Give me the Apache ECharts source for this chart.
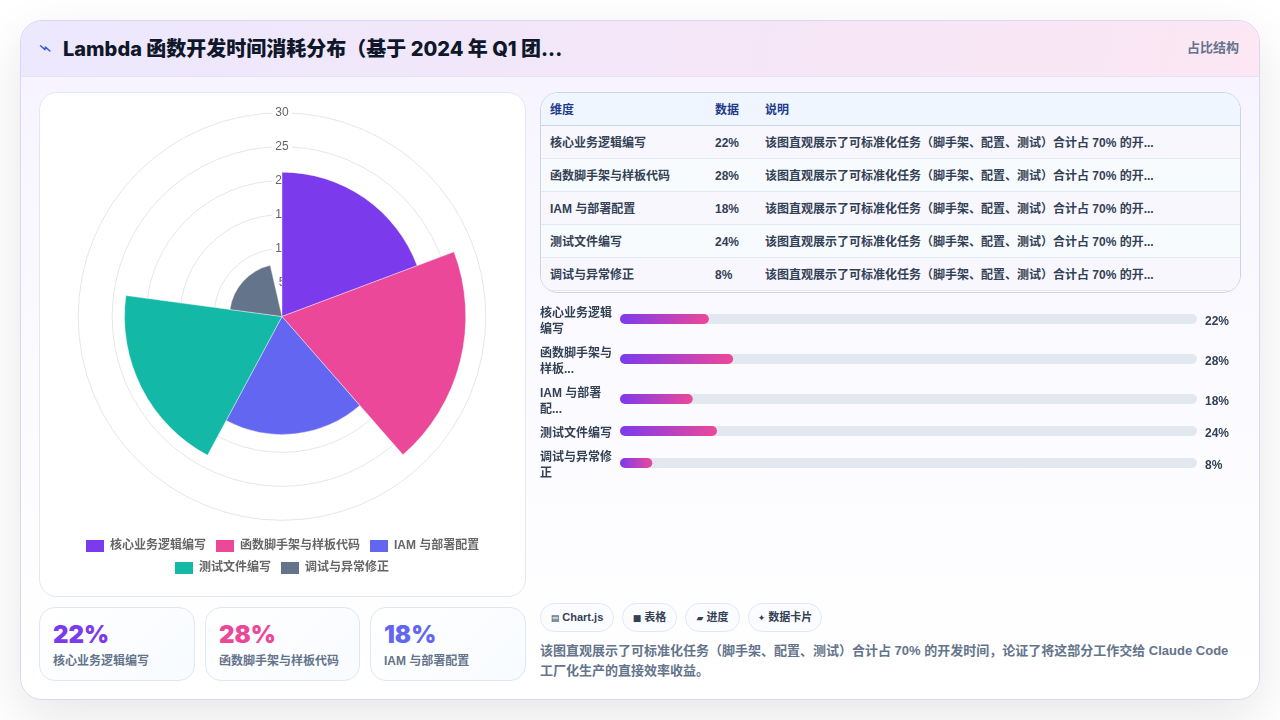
<!DOCTYPE html>
<html lang="zh"><head><meta charset="utf-8">
<script src="https://cdn.jsdelivr.net/npm/echarts@6/dist/echarts.min.js"></script>
<style>
*{box-sizing:border-box;margin:0;padding:0}
html,body{width:1280px;height:720px;overflow:hidden;background:#fff;font-family:"Liberation Sans","Noto Sans CJK SC",sans-serif}
#card{position:absolute;left:20px;top:20px;width:1240px;height:680px;border-radius:22px;border:1px solid #ddd6f3;overflow:hidden;background:linear-gradient(180deg,#f6f3ff 0%,#fbfaff 50%,#fff 100%);}
#shadow{position:absolute;left:20px;top:20px;width:1240px;height:680px;border-radius:22px;box-shadow:0 18px 50px rgba(15,23,42,.10)}
#head{position:absolute;left:0;top:0;width:100%;height:56px;background:linear-gradient(100deg,#ece8fd 0%,#f5e6f7 60%,#fce7f3 100%);border-bottom:1px solid #e6e2f5}
#title{position:absolute;left:42px;top:14px;font-family:Inter,"Noto Sans CJK SC",sans-serif;font-size:20px;line-height:28px;font-weight:800;color:#0f172a;white-space:nowrap}
#icon{position:absolute;left:20px;top:14px;color:#3158d8;font-size:16px;line-height:28px;font-weight:400;font-family:"DejaVu Sans";transform:rotate(20deg) scaleX(1.5);transform-origin:6px 14px}
#kind{position:absolute;right:20px;top:18px;font-size:13px;line-height:18px;font-weight:700;color:#64748b}
.panel{position:absolute;background:#fff;border:1px solid #e2e8f0;border-radius:18px}
#tb{position:absolute;left:519px;top:71px;width:701px;height:201px;border:1px solid #cbd5e1;border-radius:18px;overflow:hidden;background:#fff}
#tb .r{position:absolute;left:0;width:100%;height:33px;border-bottom:1px solid #e2e8f0;font-size:12px;line-height:34px;font-weight:700;color:#334155;white-space:nowrap}
#tb .r span{position:absolute;top:0}
#tb .h{background:#eff6ff;color:#1e3a8a;border-bottom:1px solid #cbd5e1}
.stat{position:absolute;top:586px;height:74px;border:1px solid #dfe7f5;border-radius:16px;background:linear-gradient(135deg,#fff,#f8fbff)}
.stat b{position:absolute;left:13px;top:11px;font-family:Inter,sans-serif;font-size:24px;line-height:32px;font-weight:900}
.stat em{position:absolute;left:13px;top:44px;font-style:normal;font-size:12px;line-height:18px;font-weight:700;color:#64748b;white-space:nowrap}
.tag{position:absolute;top:582px;height:29px;border:1px solid #e2e8f0;border-radius:15px;background:#fbfcff;font-size:11px;line-height:26px;font-weight:700;color:#334155;text-align:center;white-space:nowrap}
.tag i{font-style:normal;font-family:"DejaVu Sans";font-size:9px;font-weight:400}
#desc{position:absolute;left:519px;top:620px;width:700px;font-size:13px;line-height:20px;font-weight:700;color:#64748b}
#chart{position:absolute;left:0;top:0;width:1280px;height:720px}
</style></head><body>
<div id="shadow"></div>
<div id="card">
 <div id="head"><div id="icon">⌁</div><div id="title">Lambda 函数开发时间消耗分布（基于 2024 年 Q1 团...</div><div id="kind">占比结构</div></div>
 <div class="panel" style="left:18px;top:71px;width:487px;height:505px"></div>
 <div id="tb"></div>
 <div id="stats"></div>
 <div id="tags"></div>
 <div id="desc"></div>
</div>
<div id="chart"></div>
<script>
const categories = ['核心业务逻辑编写','函数脚手架与样板代码','IAM 与部署配置','测试文件编写','调试与异常修正'];
const values = [22,28,18,24,8];
const colors = ['#7c3aed','#ec4899','#6366f1','#14b8a6','#64748b'];
const radiusTicks = [0,5,10,15,20,25,30];
const barLabels = ['核心业务逻辑\n编写','函数脚手架与\n样板...','IAM 与部署\n配...','测试文件编写','调试与异常修\n正'];
const barCenters = [319,359,399,431,463];
const note = '该图直观展示了可标准化任务（脚手架、配置、测试）合计占 70% 的开...';
const descText = '该图直观展示了可标准化任务（脚手架、配置、测试）合计占 70% 的开发时间，论证了将这部分工作交给 Claude Code 工厂化生产的直接效率收益。';
const tags = [['▤','Chart.js',519,74],['■','表格',601,55],['▰','进度',664,55],['✦','数据卡片',727,74]];
// The reference was photographed just before its entry animation settled.
const radialProgress = 0.966;
const angularProgress = 0.964;
const barAxisMax = 142.8;

// HTML side panels built from the data
const tb = document.getElementById('tb');
let html = '<div class="r h" style="top:0"><span style="left:9px">维度</span><span style="left:174px">数据</span><span style="left:224px">说明</span></div>';
categories.forEach((c,i)=>{
  const bg = i%2? '#f8fbfe':'#f8f7fe';
  html += `<div class="r" style="top:${33+i*33}px;background:${bg}"><span style="left:9px">${c}</span><span style="left:174px">${values[i]}%</span><span style="left:224px">${note}</span></div>`;
});
tb.innerHTML = html;
const statLefts = [18,184,349];
document.getElementById('stats').innerHTML = statLefts.map((l,i)=>
 `<div class="stat" style="left:${l}px;width:${i==0?156:155+(i==2?1:0)}px"><b style="color:${colors[i]}">${values[i]}%</b><em>${categories[i]}</em></div>`).join('');
document.getElementById('tags').innerHTML = tags.map(t=>`<div class="tag" style="left:${t[2]}px;width:${t[3]}px"><i>${t[0]}</i> ${t[1]}</div>`).join('');
document.getElementById('desc').textContent = descText;

const chart = echarts.init(document.getElementById('chart'),null,{renderer:'canvas'});
const sweep = 72*angularProgress;
const polarSeries = categories.map((name,i)=>({
  name, type:'custom', coordinateSystem:'polar', polarIndex:0,
  itemStyle:{color:colors[i]}, animation:false,
  data:[[values[i],i]],
  renderItem(params,api){
    const cs = params.coordSys;
    const p = api.coord([api.value(0)*radialProgress,0]);
    const r = Math.hypot(p[0]-cs.cx,p[1]-cs.cy);
    const a0 = (-90+api.value(1)*sweep)*Math.PI/180;
    return {type:'sector',shape:{cx:cs.cx,cy:cs.cy,r0:0,r,startAngle:a0,endAngle:a0+sweep*Math.PI/180,clockwise:true},
      style:{fill:colors[i],stroke:'#fff',lineWidth:0.4}};
  }
}));
const legendBase = {type:'plain',orient:'horizontal',padding:0,itemWidth:18,itemHeight:12,itemGap:10,selectedMode:false,icon:'rect',
  textStyle:{color:'#666',fontSize:12,fontWeight:'bold',fontFamily:'"Liberation Sans","Noto Sans CJK SC"',padding:[0,0,0,1]}};
const grids=[],xAxes=[],yAxes=[],barSeries=[];
categories.forEach((c,i)=>{
  grids.push({left:620,width:577,top:barCenters[i]-5,height:10,containLabel:false});
  xAxes.push({type:'value',gridIndex:i,min:0,max:barAxisMax,show:false});
  const labelStyle={fontFamily:'"Liberation Sans","Noto Sans CJK SC"',fontWeight:700,fontSize:12,color:'#334155',lineHeight:16,
    formatter:v=>'{s| }\n'+v,rich:{s:{lineHeight:5,fontSize:1}}};
  yAxes.push({type:'category',gridIndex:i,data:[barLabels[i]],position:'left',axisLine:{show:false},axisTick:{show:false},
    axisLabel:{...labelStyle,align:'left',margin:80}});
  yAxes.push({type:'category',gridIndex:i,data:[values[i]+'%'],position:'right',axisLine:{show:false},axisTick:{show:false},
    axisLabel:{...labelStyle,align:'left',margin:8}});
  barSeries.push({type:'bar',name:'进度'+i,xAxisIndex:i,yAxisIndex:i*2,data:[values[i]],barWidth:10,animation:false,
    showBackground:true,backgroundStyle:{color:'#e2e8f0',borderRadius:5},
    itemStyle:{borderRadius:5,color:new echarts.graphic.LinearGradient(0,0,1,0,[{offset:0,color:'#7c3aed'},{offset:1,color:'#ec4899'}])}});
});
chart.setOption({
  animation:false,
  polar:{center:[282,316.5],radius:203.8},
  angleAxis:{type:'value',min:0,max:360,startAngle:90,show:false},
  radiusAxis:{type:'value',min:radiusTicks[0],max:radiusTicks[radiusTicks.length-1],interval:radiusTicks[1],z:0,
    axisLine:{show:false},axisTick:{show:false},
    splitLine:{show:true,lineStyle:{color:'#e6e6e6',width:1}},
    axisLabel:{color:'#666',fontSize:12,fontFamily:'"Liberation Sans"',align:'center',verticalAlign:'middle',margin:0,
      backgroundColor:'#fff',padding:[1,3],formatter:v=>v===0?'':String(v)}},
  legend:[
    {...legendBase,left:86,top:540,data:categories.slice(0,3)},
    {...legendBase,left:175,top:562,data:categories.slice(3)}
  ],
  grid:grids,xAxis:xAxes,yAxis:yAxes,
  series:[...polarSeries,...barSeries]
});
</script></body></html>
